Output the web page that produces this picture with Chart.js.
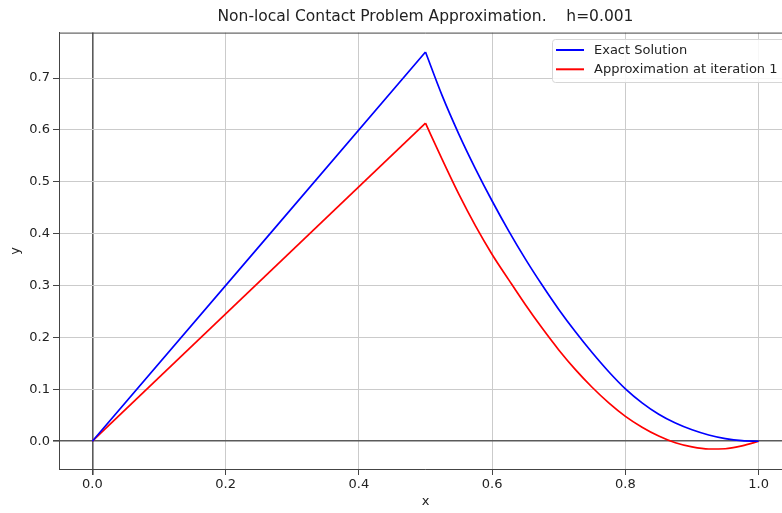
<!DOCTYPE html>
<html>
<head>
<meta charset="utf-8">
<script src="https://cdn.jsdelivr.net/npm/chart.js@4/dist/chart.umd.min.js"></script>
<style>
    html, body { margin: 0; padding: 0; background: #fff; overflow: hidden; }
    #wrap { width: 800px; height: 513px; }
</style>
</head>
<body>
<div id="wrap"><canvas id="chart" width="800" height="513"></canvas></div>
<script>
// Non-local contact problem: exact solution vs first iteration

// rising part is a straight line up to the kink at x = 0.5
const xsRise = [0, 0.5];
const exactRise = [0, 0.750];
const approxRise = [0, 0.613];

// falling part
const xsFall = [0.5, 0.525, 0.55, 0.575, 0.6, 0.625, 0.65, 0.675, 0.7, 0.725, 0.75, 0.775, 0.8,
    0.825, 0.85, 0.875, 0.9, 0.925, 0.95, 0.975, 1.0];
const exactFall = [0.750, 0.666, 0.592, 0.525, 0.463, 0.405, 0.351, 0.301, 0.254, 0.211, 0.171,
    0.134, 0.101, 0.074, 0.052, 0.035, 0.022, 0.012, 0.005, 0.001, 0];
const approxFall = [0.613, 0.543, 0.476, 0.415, 0.360, 0.311, 0.263, 0.218, 0.176, 0.138, 0.104,
    0.074, 0.048, 0.027, 0.010, -0.003, -0.011, -0.015, -0.0145, -0.009, 0];

const xTicks = [0, 0.2, 0.4, 0.6, 0.8, 1.0];
const yTicks = [0, 0.1, 0.2, 0.3, 0.4, 0.5, 0.6, 0.7];

const FONT = '"DejaVu Sans", sans-serif';
const TEXT = '#222';
const GRID = '#cbcbcb';
const AXIS = '#5a5a5a';
const BLUE = '#0000ff';
const RED = '#ff0000';

function pts(xs, ys) {
    return xs.map((x, i) => ({ x: x, y: ys[i] }));
}

function series(label, color, xs, ys, inLegend) {
    return {
        label: label,
        data: pts(xs, ys),
        borderColor: color,
        borderWidth: 1.7,
        pointRadius: 0,
        cubicInterpolationMode: 'monotone',
        inLegend: inLegend
    };
}

// top spine + legend box drawn inside the axes
const framePlugin = {
    id: 'frame',
    afterDraw(chart) {
        const ctx = chart.ctx;
        const a = chart.chartArea;
        ctx.save();
        ctx.strokeStyle = '#444';
        ctx.lineWidth = 1;
        ctx.beginPath();
        ctx.moveTo(a.left, a.top + 0.5);
        ctx.lineTo(a.right, a.top + 0.5);
        ctx.stroke();

        // legend
        const bx = 552, by = 39, bw = 236, bh = 43;
        ctx.fillStyle = 'rgba(255,255,255,0.85)';
        ctx.strokeStyle = '#d6d6d6';
        ctx.beginPath();
        ctx.roundRect(bx + 0.5, by + 0.5, bw, bh, 3);
        ctx.fill();
        ctx.stroke();

        ctx.font = '13px ' + FONT;
        ctx.textBaseline = 'middle';
        chart.data.datasets.filter(ds => ds.inLegend).forEach((ds, i) => {
            const y = 50 + i * 19.3;
            ctx.strokeStyle = ds.borderColor;
            ctx.lineWidth = 2;
            ctx.beginPath();
            ctx.moveTo(556, y);
            ctx.lineTo(584, y);
            ctx.stroke();
            ctx.fillStyle = TEXT;
            ctx.fillText(ds.label, 594, y + 0.5);
        });
        ctx.restore();
    }
};

new Chart(document.getElementById('chart'), {
    type: 'line',
    data: {
        datasets: [
            series('Exact Solution', BLUE, xsRise, exactRise, true),
            series('Exact Solution', BLUE, xsFall, exactFall, false),
            series('Approximation at iteration 1', RED, xsRise, approxRise, true),
            series('Approximation at iteration 1', RED, xsFall, approxFall, false)
        ]
    },
    options: {
        responsive: false,
        animation: false,
        layout: { padding: { left: 0, right: 8, top: 0, bottom: 0 } },
        plugins: {
            legend: { display: false },
            tooltip: { enabled: false },
            title: {
                display: true,
                text: 'Non-local Contact Problem Approximation.    h=0.001',
                fullSize: false,
                color: TEXT,
                font: { family: FONT, size: 15.5, weight: 'normal' },
                padding: { top: 8, bottom: 6 }
            }
        },
        scales: {
            x: {
                type: 'linear',
                min: -0.05,
                max: 1.05,
                afterBuildTicks: s => { s.ticks = xTicks.map(v => ({ value: v })); },
                afterFit: s => { s.height = 44; },
                ticks: {
                    color: TEXT,
                    font: { family: FONT, size: 13 },
                    padding: 2,
                    maxRotation: 0,
                    callback: v => v.toFixed(1)
                },
                grid: {
                    color: c => c.tick && c.tick.value === 0 ? AXIS : GRID,
                    lineWidth: c => c.tick && c.tick.value === 0 ? 1.6 : 1,
                    tickColor: '#444',
                    tickLength: 6
                },
                border: { display: true, color: '#444', width: 1 },
                title: {
                    display: true,
                    text: 'x',
                    color: TEXT,
                    font: { family: FONT, size: 13 },
                    padding: { top: 0, bottom: 4 }
                }
            },
            y: {
                min: -0.0535,
                max: 0.7875,
                afterBuildTicks: s => { s.ticks = yTicks.map(v => ({ value: v })); },
                afterFit: s => { s.width = 59; },
                ticks: {
                    color: TEXT,
                    font: { family: FONT, size: 13 },
                    padding: 3,
                    callback: v => v.toFixed(1)
                },
                grid: {
                    color: c => c.tick && c.tick.value === 0 ? AXIS : GRID,
                    lineWidth: c => c.tick && c.tick.value === 0 ? 1.6 : 1,
                    tickColor: '#444',
                    tickLength: 6
                },
                border: { display: true, color: '#444', width: 1 },
                title: {
                    display: true,
                    text: 'y',
                    color: TEXT,
                    font: { family: FONT, size: 13 },
                    padding: { top: 8, bottom: 0 }
                }
            }
        }
    },
    plugins: [framePlugin]
});
</script>
</body>
</html>
